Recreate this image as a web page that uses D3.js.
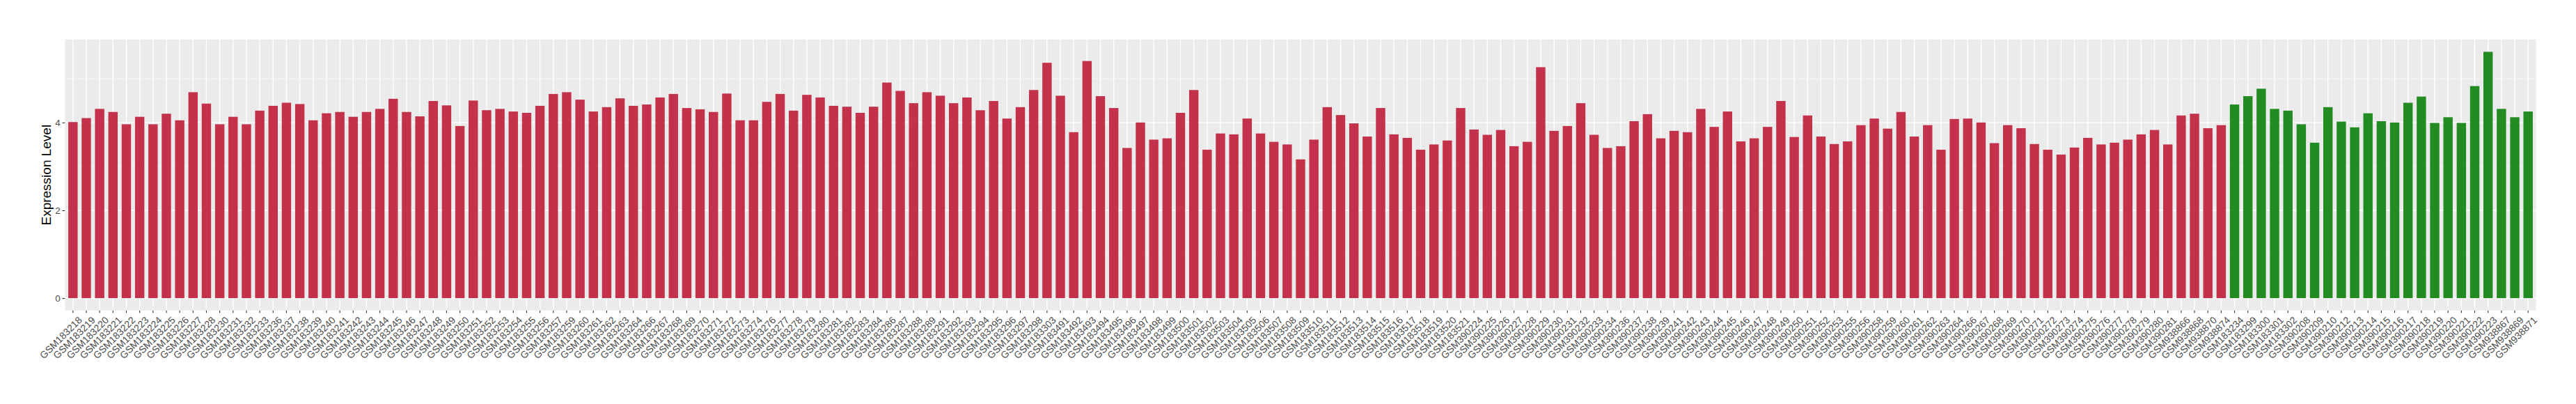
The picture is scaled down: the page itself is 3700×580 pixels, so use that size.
<!DOCTYPE html>
<html>
<head>
<meta charset="utf-8">
<script src="https://cdn.jsdelivr.net/npm/d3@7"></script>
<style>
  body { margin: 0; background: #fff; }
  text { font-family: "Liberation Sans", Arial, Helvetica, sans-serif; }
</style>
</head>
<body>
<div class="barchart"></div>
<script>
var redSamples = ["GSM183218","GSM183219","GSM183220","GSM183221","GSM183222","GSM183223","GSM183224","GSM183225","GSM183226","GSM183227",
  "GSM183228","GSM183230","GSM183231","GSM183232","GSM183233","GSM183236","GSM183237","GSM183238","GSM183239","GSM183240",
  "GSM183241","GSM183242","GSM183243","GSM183244","GSM183245","GSM183246","GSM183247","GSM183248","GSM183249","GSM183250",
  "GSM183251","GSM183252","GSM183253","GSM183254","GSM183255","GSM183256","GSM183257","GSM183259","GSM183260","GSM183261",
  "GSM183262","GSM183263","GSM183264","GSM183266","GSM183267","GSM183268","GSM183269","GSM183270","GSM183271","GSM183272",
  "GSM183273","GSM183274","GSM183276","GSM183277","GSM183278","GSM183279","GSM183280","GSM183281","GSM183282","GSM183283",
  "GSM183284","GSM183286","GSM183287","GSM183288","GSM183289","GSM183291","GSM183292","GSM183293","GSM183294","GSM183295",
  "GSM183296","GSM183297","GSM183298","GSM183303","GSM183491","GSM183492","GSM183493","GSM183494","GSM183495","GSM183496",
  "GSM183497","GSM183498","GSM183499","GSM183500","GSM183501","GSM183502","GSM183503","GSM183504","GSM183505","GSM183506",
  "GSM183507","GSM183508","GSM183509","GSM183510","GSM183511","GSM183512","GSM183513","GSM183514","GSM183515","GSM183516",
  "GSM183517","GSM183518","GSM183519","GSM183520","GSM183521","GSM390224","GSM390225","GSM390226","GSM390227","GSM390228",
  "GSM390229","GSM390230","GSM390231","GSM390232","GSM390233","GSM390234","GSM390236","GSM390237","GSM390238","GSM390239",
  "GSM390241","GSM390242","GSM390243","GSM390244","GSM390245","GSM390246","GSM390247","GSM390248","GSM390249","GSM390250",
  "GSM390251","GSM390252","GSM390253","GSM390255","GSM390256","GSM390258","GSM390259","GSM390260","GSM390261","GSM390262",
  "GSM390263","GSM390264","GSM390266","GSM390267","GSM390268","GSM390269","GSM390270","GSM390271","GSM390272","GSM390273",
  "GSM390274","GSM390275","GSM390276","GSM390277","GSM390278","GSM390279","GSM390280","GSM390281","GSM938866","GSM938868",
  "GSM938870","GSM938874"];
var redValues = [4.01,4.10,4.31,4.24,3.96,4.13,3.96,4.20,4.05,4.69,
  4.43,3.96,4.13,3.96,4.27,4.38,4.45,4.42,4.05,4.21,
  4.24,4.13,4.24,4.31,4.54,4.24,4.14,4.49,4.39,3.92,
  4.50,4.28,4.31,4.25,4.22,4.38,4.65,4.69,4.52,4.25,
  4.35,4.55,4.38,4.41,4.57,4.65,4.33,4.30,4.24,4.66,
  4.05,4.05,4.47,4.65,4.27,4.63,4.57,4.38,4.36,4.22,
  4.36,4.91,4.72,4.44,4.69,4.61,4.44,4.57,4.28,4.49,
  4.09,4.35,4.74,5.36,4.61,3.78,5.40,4.60,4.33,3.42,
  4.00,3.61,3.64,4.22,4.74,3.38,3.75,3.73,4.09,3.75,
  3.56,3.50,3.16,3.61,4.35,4.17,3.98,3.68,4.33,3.73,
  3.65,3.38,3.50,3.59,4.33,3.84,3.72,3.83,3.46,3.56,
  5.26,3.81,3.92,4.44,3.72,3.42,3.46,4.03,4.19,3.64,
  3.81,3.78,4.31,3.90,4.25,3.57,3.64,3.90,4.49,3.67,
  4.16,3.68,3.51,3.57,3.94,4.09,3.86,4.24,3.68,3.94,
  3.38,4.08,4.09,4.00,3.53,3.94,3.87,3.51,3.38,3.27,
  3.43,3.65,3.50,3.54,3.61,3.73,3.83,3.50,4.16,4.20,
  3.87,3.94];

var greenSamples = ["GSM183234","GSM183299","GSM183300","GSM183301","GSM183302","GSM390208","GSM390209","GSM390210","GSM390212","GSM390213",
  "GSM390214","GSM390215","GSM390216","GSM390217","GSM390218","GSM390219","GSM390220","GSM390221","GSM390222","GSM390223",
  "GSM938867","GSM938869","GSM938871"];
var greenValues = [4.41,4.60,4.77,4.31,4.27,3.96,3.54,4.35,4.02,3.89,
  4.21,4.03,4.00,4.45,4.59,3.99,4.12,3.99,4.83,5.61,
  4.31,4.12,4.25];

var yTicks = [0, 2, 4];
var yMinor = [1, 3, 5];
var yTitle = "Expression Level";

var w = 3700;
var h = 580;
var panelLeft = 93.3, panelRight = 3642.7, panelTop = 56.7, panelBottom = 445.7;

var dataset = [];
redSamples.forEach(function(s, i) { dataset.push({ name: s, value: redValues[i], color: "#C3314A" }); });
greenSamples.forEach(function(s, i) { dataset.push({ name: s, value: greenValues[i], color: "#228B22" }); });

var maxValue = d3.max(dataset, function(d) { return d.value; });

var x = d3.scaleBand()
  .domain(dataset.map(function(d) { return d.name; }))
  .range([panelLeft, panelRight])
  .paddingInner(0.3)
  .paddingOuter(0.25);

var y = d3.scaleLinear()
  .domain([-0.05 * maxValue, 1.05 * maxValue])
  .range([panelBottom, panelTop]);

var svg = d3.select(".barchart")
  .append("svg")
  .attr("width", w)
  .attr("height", h);

svg.append("rect")
  .attr("x", panelLeft).attr("y", panelTop)
  .attr("width", panelRight - panelLeft).attr("height", panelBottom - panelTop)
  .attr("fill", "#EBEBEB");

// grid
svg.selectAll(".minor")
  .data(yMinor)
  .enter()
  .append("line")
  .attr("x1", panelLeft).attr("x2", panelRight)
  .attr("y1", function(d) { return y(d); })
  .attr("y2", function(d) { return y(d); })
  .attr("stroke", "#FFFFFF").attr("stroke-opacity", 0.6).attr("stroke-width", 0.8);

svg.selectAll(".major")
  .data(yTicks)
  .enter()
  .append("line")
  .attr("x1", panelLeft).attr("x2", panelRight)
  .attr("y1", function(d) { return y(d); })
  .attr("y2", function(d) { return y(d); })
  .attr("stroke", "#FFFFFF").attr("stroke-width", 1.4);

svg.selectAll(".vgrid")
  .data(dataset)
  .enter()
  .append("line")
  .attr("x1", function(d) { return x(d.name) + x.bandwidth() / 2; })
  .attr("x2", function(d) { return x(d.name) + x.bandwidth() / 2; })
  .attr("y1", panelTop).attr("y2", panelBottom)
  .attr("stroke", "#FFFFFF").attr("stroke-width", 1.4);

svg.selectAll(".bar")
  .data(dataset)
  .enter()
  .append("rect")
  .attr("x", function(d) { return x(d.name); })
  .attr("y", function(d) { return y(d.value); })
  .attr("width", x.bandwidth())
  .attr("height", function(d) { return y(0) - y(d.value); })
  .attr("fill", function(d) { return d.color; });

// axes
var yAxis = d3.axisLeft(y).tickValues(yTicks).tickFormat(d3.format("d")).tickSize(4).tickPadding(2.5);
var gy = svg.append("g").attr("transform", "translate(" + panelLeft + ",0)").call(yAxis);
gy.select(".domain").remove();
gy.selectAll("line").attr("stroke", "#333333").attr("stroke-width", 1.1);
gy.selectAll("text").attr("fill", "#4D4D4D").style("font-size", "13.5px")
  .style("font-family", "Liberation Sans, Arial, sans-serif");

var xAxis = d3.axisBottom(x).tickSize(3.5).tickPadding(0);
var gx = svg.append("g").attr("transform", "translate(0," + panelBottom + ")").call(xAxis);
gx.select(".domain").remove();
gx.selectAll("line").attr("stroke", "#333333").attr("stroke-width", 1.1);
gx.selectAll("text")
  .attr("fill", "#4D4D4D")
  .style("font-size", "14px")
  .style("font-family", "Liberation Sans, Arial, sans-serif")
  .attr("text-anchor", "end")
  .attr("dy", "0.72em")
  .attr("y", 0)
  .attr("transform", "translate(6.7,7.6) rotate(-45)");

svg.append("text")
  .attr("transform", "translate(66," + ((panelTop + panelBottom) / 2) + ") rotate(-90)")
  .attr("text-anchor", "middle")
  .attr("dy", "0.35em")
  .style("font-size", "19px")
  .attr("fill", "#000000")
  .text(yTitle);
</script>
</body>
</html>
